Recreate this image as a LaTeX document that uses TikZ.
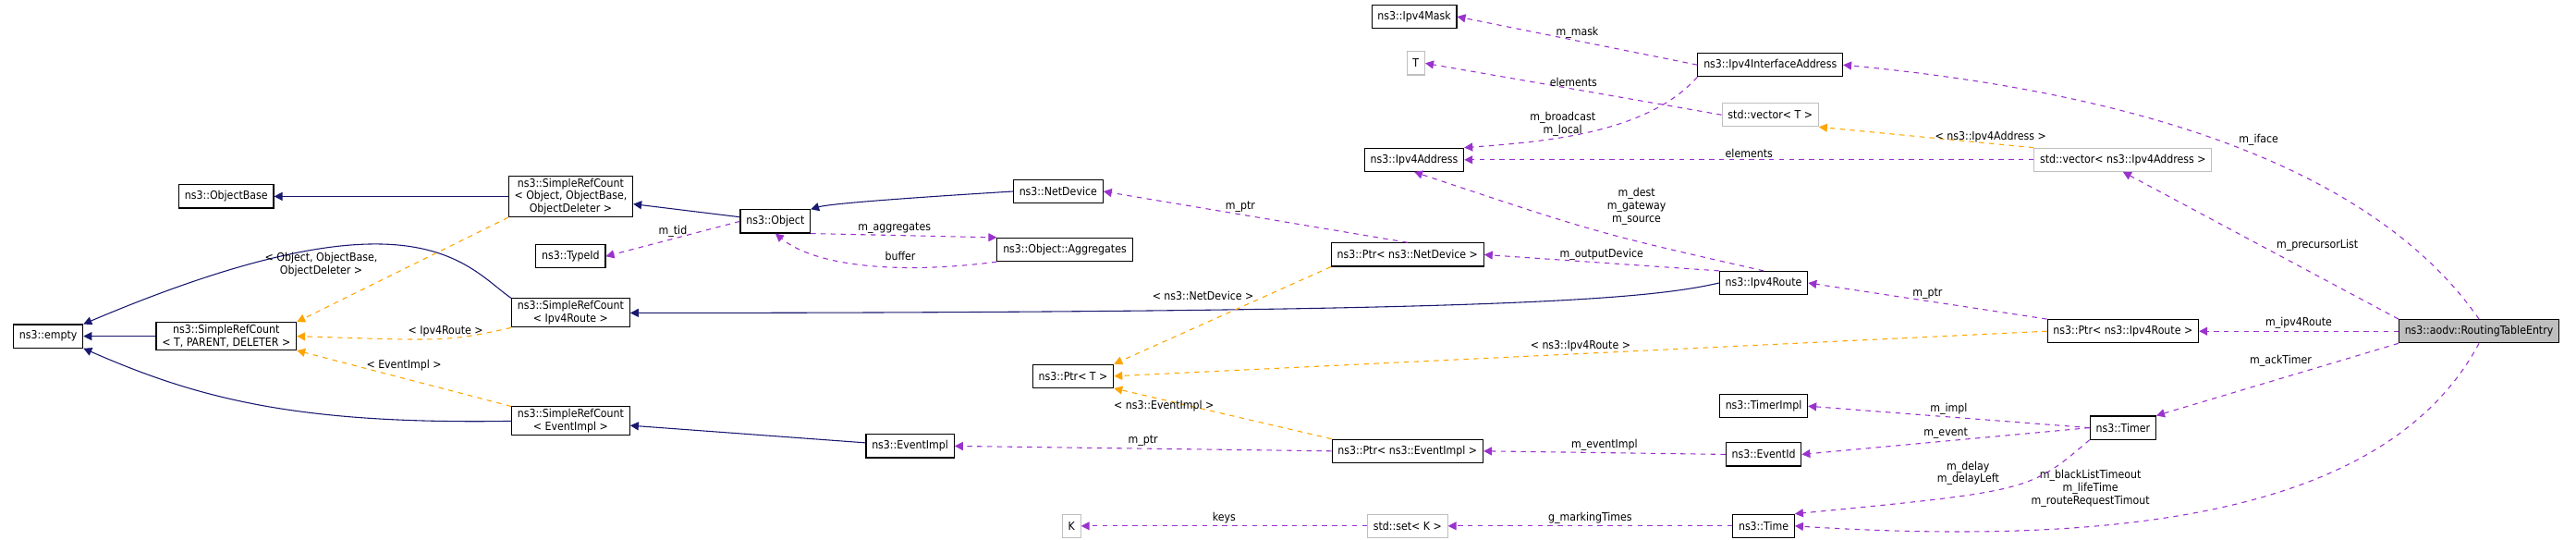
\documentclass[tikz,border=0pt]{standalone}
\usepackage{fontspec}
\setmainfont{DejaVu Sans Condensed}
\usetikzlibrary{arrows.meta,positioning}
\definecolor{inhcol}{RGB}{25,25,112}
\definecolor{usecol}{RGB}{154,50,205}
\definecolor{tplcol}{RGB}{255,165,0}
\begin{document}
\begin{tikzpicture}[x=1pt,y=-1pt,
  cls/.style={draw,line width=0.6pt,fill=white,font=\fontsize{6.8}{7.6}\selectfont,inner xsep=3.5pt,inner ysep=1.5pt,minimum height=14pt,align=center},
  ext/.style={cls,draw=black!25},
  main/.style={cls,fill=black!25},
  inh/.style={draw=inhcol,line width=0.6pt,-{Triangle[length=5pt,width=5pt]}},
  use/.style={draw=usecol,dashed,line width=0.6pt,-{Triangle[length=5pt,width=5pt]}},
  tpl/.style={draw=tplcol,dashed,line width=0.6pt,-{Triangle[length=5pt,width=5pt]}},
  lbl/.style={font=\fontsize{6.8}{7.6}\selectfont,align=center,inner sep=1pt}]
\useasboundingbox (0,0) rectangle (1548.3,324.4);

% classes
\node[cls] (empty) at (29,202) {ns3::empty};
\node[cls] (srcTPD) at (136,202) {ns3::SimpleRefCount\\< T, PARENT, DELETER >};
\node[cls] (objBase) at (136,118) {ns3::ObjectBase};
\node[cls] (srcObj) at (343,118) {ns3::SimpleRefCount\\< Object, ObjectBase,\\ObjectDeleter >};
\node[cls] (srcRoute) at (343,188) {ns3::SimpleRefCount\\< Ipv4Route >};
\node[cls] (srcEvt) at (343,253) {ns3::SimpleRefCount\\< EventImpl >};
\node[cls] (typeId) at (343,154) {ns3::TypeId};
\node[cls] (object) at (466,133) {ns3::Object};
\node[cls] (evtImpl) at (547,268) {ns3::EventImpl};
\node[cls] (netDev) at (636,115) {ns3::NetDevice};
\node[cls] (aggr) at (640,150) {ns3::Object::Aggregates};
\node[cls] (ptrT) at (645,226) {ns3::Ptr< T >};
\node[ext] (keyK) at (644,316) {K};
\node[cls] (mask) at (850,10) {ns3::Ipv4Mask};
\node[ext] (tT) at (851,38) {T};
\node[cls] (addr) at (850,96) {ns3::Ipv4Address};
\node[cls] (ptrDev) at (846,153) {ns3::Ptr< ns3::NetDevice >};
\node[cls] (ptrEvt) at (846,271) {ns3::Ptr< ns3::EventImpl >};
\node[ext] (setK) at (846,316) {std::set< K >};
\node[cls] (ifAddr) at (1064,39) {ns3::Ipv4InterfaceAddress};
\node[ext] (vecT) at (1064,69) {std::vector< T >};
\node[cls] (route) at (1060,170) {ns3::Ipv4Route};
\node[cls] (timerImpl) at (1060,244) {ns3::TimerImpl};
\node[cls] (evtId) at (1060,273) {ns3::EventId};
\node[cls] (time) at (1060,316) {ns3::Time};
\node[ext] (vecAddr) at (1276,96) {std::vector< ns3::Ipv4Address >};
\node[cls] (ptrRoute) at (1276,199) {ns3::Ptr< ns3::Ipv4Route >};
\node[cls] (timer) at (1276,257) {ns3::Timer};
\node[main] (rte) at (1490,199) {ns3::aodv::RoutingTableEntry};

% inheritance
\draw[inh] (srcObj) -- (objBase);
\draw[inh] (object) -- (srcObj);
\draw[inh] (netDev.west) .. controls (560,118) and (500,122) .. (object.north east);
\draw[inh] (srcRoute.north west) .. controls (280,160) and (250,110) .. (empty.north east);
\draw[inh] (srcTPD) -- (empty);
\draw[inh] (srcEvt.west) .. controls (180,255) and (120,240) .. (empty.south east);
\draw[inh] (route.west) .. controls (990,180) and (900,188) .. (srcRoute.east);
\draw[inh] (evtImpl) -- (srcEvt);

% templates
\draw[tpl] (srcObj.south west) -- (srcTPD.north east) node[lbl,pos=0.6,above left=1pt and 1pt] {< Object, ObjectBase,\\ObjectDeleter >};
\draw[tpl] (srcRoute.south west) .. controls (270,205) .. (srcTPD.east) node[lbl,pos=0.45,above] {< Ipv4Route >};
\draw[tpl] (srcEvt.north west) -- (srcTPD.south east) node[lbl,pos=0.5,above=3pt] {< EventImpl >};
\draw[tpl] (ptrDev.south west) -- (ptrT.north east) node[lbl,pos=0.3,left=6pt] {< ns3::NetDevice >};
\draw[tpl] (ptrRoute.west) -- (ptrT.east) node[lbl,pos=0.5,above] {< ns3::Ipv4Route >};
\draw[tpl] (ptrEvt.north west) -- (ptrT.south east) node[lbl,pos=0.5,above left=0pt and 4pt] {< ns3::EventImpl >};
\draw[tpl] (vecAddr.north west) -- (vecT.south east) node[lbl,pos=0.5,right=4pt] {< ns3::Ipv4Address >};

% members
\draw[use] (object.west) -- (typeId.east) node[lbl,pos=0.5,above] {m\_tid};
\draw[use] (object.south east) -- (aggr.north west) node[lbl,pos=0.45,above] {m\_aggregates};
\draw[use] (aggr.south west) .. controls (540,165) and (490,160) .. (object.south) node[lbl,pos=0.35,above=3pt] {buffer};
\draw[use] (ptrDev.north) -- (netDev.east) node[lbl,pos=0.55,above] {m\_ptr};
\draw[use] (route.north west) -- (ptrDev.east) node[lbl,pos=0.5,above] {m\_outputDevice};
\draw[use] (route.north) .. controls (960,140) .. (addr.south) node[lbl,pos=0.5,above right=2pt and 6pt] {m\_dest\\m\_gateway\\m\_source};
\draw[use] (ifAddr.west) -- (mask.east) node[lbl,pos=0.5,above] {m\_mask};
\draw[use] (ifAddr.south west) .. controls (990,80) and (930,85) .. (addr.north east) node[lbl,pos=0.4,left=12pt] {m\_broadcast\\m\_local};
\draw[use] (vecT.west) -- (tT.east) node[lbl,pos=0.5,above] {elements};
\draw[use] (vecAddr.west) -- (addr.east) node[lbl,pos=0.5,above] {elements};
\draw[use] (rte.north) .. controls (1440,120) and (1330,60) .. (ifAddr.east) node[lbl,pos=0.55,above right] {m\_iface};
\draw[use] (rte.north west) -- (vecAddr.south) node[lbl,pos=0.45,above right] {m\_precursorList};
\draw[use] (ptrRoute.north west) -- (route.east) node[lbl,pos=0.5,above] {m\_ptr};
\draw[use] (rte.west) -- (ptrRoute.east) node[lbl,pos=0.5,above] {m\_ipv4Route};
\draw[use] (rte.south west) -- (timer.north east) node[lbl,pos=0.35,above left] {m\_ackTimer};
\draw[use] (rte.south) .. controls (1440,300) and (1300,330) .. (time.east) node[lbl,pos=0.62,above left=6pt and 2pt] {m\_blackListTimeout\\m\_lifeTime\\m\_routeRequestTimout};
\draw[use] (timer.west) -- (timerImpl.east) node[lbl,pos=0.5,above] {m\_impl};
\draw[use] (timer.west) -- (evtId.east) node[lbl,pos=0.5,above] {m\_event};
\draw[use] (timer.south west) .. controls (1220,295) .. (time.north east) node[lbl,pos=0.5,above left=0pt and 4pt] {m\_delay\\m\_delayLeft};
\draw[use] (evtId.west) -- (ptrEvt.east) node[lbl,pos=0.5,above] {m\_eventImpl};
\draw[use] (ptrEvt.west) -- (evtImpl.east) node[lbl,pos=0.5,above] {m\_ptr};
\draw[use] (time.west) -- (setK.east) node[lbl,pos=0.5,above] {g\_markingTimes};
\draw[use] (setK.west) -- (keyK.east) node[lbl,pos=0.5,above] {keys};
\end{tikzpicture}
\end{document}
